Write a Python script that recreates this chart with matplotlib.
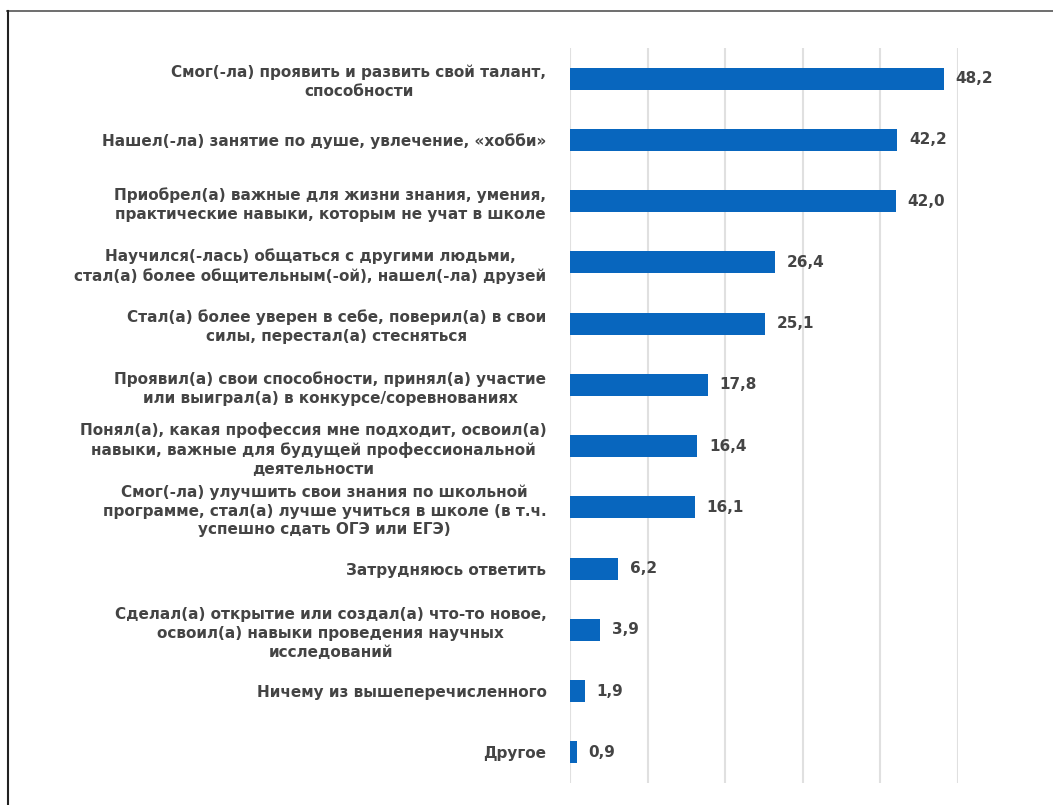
import numpy as np
import matplotlib.pyplot as plt
from matplotlib.lines import Line2D

# Ответы на вопрос, что дали занятия (в % опрошенных)
categories = [
    "Смог(-ла) проявить и развить свой талант,\nспособности",
    "Нашел(-ла) занятие по душе, увлечение, «хобби»",
    "Приобрел(а) важные для жизни знания, умения,\nпрактические навыки, которым не учат в школе",
    "Научился(-лась) общаться с другими людьми,\nстал(а) более общительным(-ой), нашел(-ла) друзей",
    "Стал(а) более уверен в себе, поверил(а) в свои\nсилы, перестал(а) стесняться",
    "Проявил(а) свои способности, принял(а) участие\nили выиграл(а) в конкурсе/соревнованиях",
    "Понял(а), какая профессия мне подходит, освоил(а)\nнавыки, важные для будущей профессиональной\nдеятельности",
    "Смог(-ла) улучшить свои знания по школьной\nпрограмме, стал(а) лучше учиться в школе (в т.ч.\nуспешно сдать ОГЭ или ЕГЭ)",
    "Затрудняюсь ответить",
    "Сделал(а) открытие или создал(а) что-то новое,\nосвоил(а) навыки проведения научных\nисследований",
    "Ничему из вышеперечисленного",
    "Другое",
]
values = [48.2, 42.2, 42.0, 26.4, 25.1, 17.8, 16.4, 16.1, 6.2, 3.9, 1.9, 0.9]

bar_color = "#0866BE"
text_color = "#444444"
grid_color = "#e0e0e0"

plt.rcParams['font.family'] = ['DejaVu Sans']

fig = plt.figure(figsize=(10.53, 8.05), dpi=100)
ax = fig.add_axes([0.5413, 0.0273, 0.9098 - 0.5413, 0.9404 - 0.0273])

y = np.arange(len(values))
bars = ax.barh(y, values, height=0.36, color=bar_color, zorder=3)

ax.set_xlim(0, 50)
ax.set_ylim(len(values) - 0.5, -0.5)
ax.set_xticks(np.arange(0, 51, 10))
ax.xaxis.grid(True, color=grid_color, lw=1.5, zorder=0)
ax.tick_params(axis='x', length=0, labelbottom=False)
ax.tick_params(axis='y', length=0, pad=17)
ax.set_yticks(y)
ax.set_yticklabels(categories, fontsize=11, color=text_color,
                   fontweight='bold', multialignment='center',
                   linespacing=1.32)
for s in ax.spines.values():
    s.set_visible(False)

# подписи значений с запятой
for b, v in zip(bars, values):
    ax.text(v + 1.5, b.get_y() + b.get_height() / 2,
            f"{v:.1f}".replace('.', ','), va='center', ha='left',
            fontsize=11, fontweight='bold', color=text_color)

# рамка сверху и слева
fig.add_artist(Line2D([0.007, 1.0], [1 - 11 / 805, 1 - 11 / 805],
                      transform=fig.transFigure, color="#555555", lw=1.2))
fig.add_artist(Line2D([8 / 1053, 8 / 1053], [0, 1 - 11 / 805],
                      transform=fig.transFigure, color="#222222", lw=1.5))

fig.savefig("out.png", dpi=100)
